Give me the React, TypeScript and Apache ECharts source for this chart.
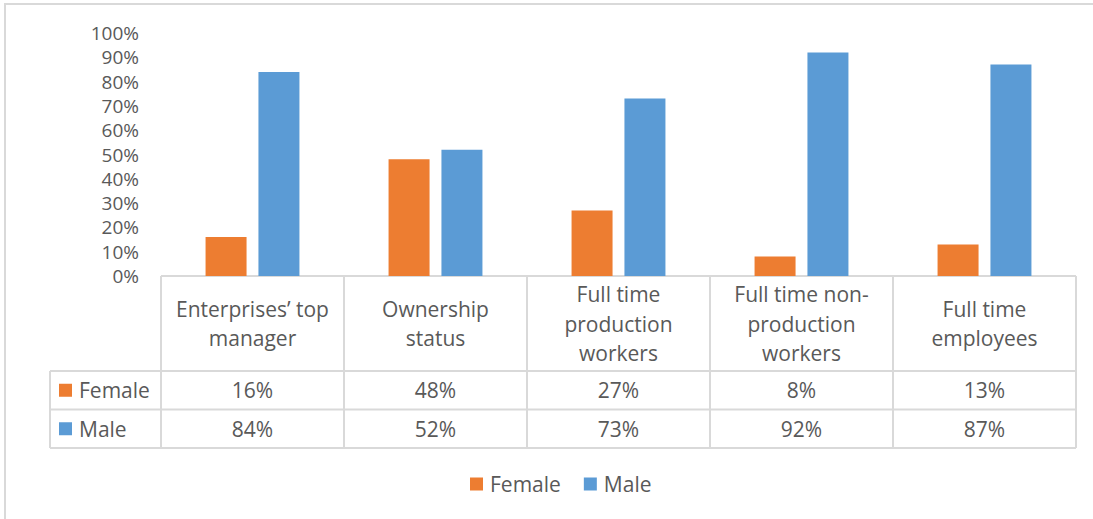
import React, { useEffect, useRef } from "react";
import * as echarts from "echarts";

const categories = [
  "Enterprises’ top\nmanager",
  "Ownership\nstatus",
  "Full time\nproduction\nworkers",
  "Full time non-\nproduction\nworkers",
  "Full time\nemployees",
];
const seriesNames = ["Female", "Male"];
const femaleValues = [16, 48, 27, 8, 13];
const maleValues = [84, 52, 73, 92, 87];
const seriesColors = ["#ED7D31", "#5B9BD5"];

const FONT = "'Open Sans', sans-serif";
const FS = 21;
const TXT = "#595959";
const LINE = "#d9d9d9";

export default function App() {
  const ref = useRef<HTMLDivElement>(null);

  useEffect(() => {
    if (!ref.current) return;
    const chart = echarts.init(ref.current, undefined, { renderer: "svg" });
    const seriesData = [femaleValues, maleValues];
    chart.setOption({
      animation: false,
      backgroundColor: "#ffffff",
      grid: { left: 161, right: 17, top: 33, bottom: 243, containLabel: false },
      legend: {
        data: seriesNames,
        top: 468,
        left: 465,
        icon: "rect",
        itemWidth: 13,
        itemHeight: 13,
        itemGap: 23,
        textStyle: { color: TXT, fontSize: FS, fontFamily: FONT, padding: [0, 0, 0, 2], lineHeight: 22 },
      },
      xAxis: {
        type: "category",
        data: categories,
        axisLine: { show: false },
        axisTick: { show: false },
        axisLabel: { show: false },
        splitLine: { show: false },
      },
      yAxis: {
        type: "value",
        min: 0,
        max: 100,
        interval: 10,
        axisLine: { show: false },
        axisTick: { show: false },
        splitLine: { show: false },
        axisLabel: {
          formatter: "{value}%",
          color: TXT,
          fontSize: 19,
          fontFamily: FONT,
          lineHeight: 19,
          margin: 22,
        },
      },
      series: seriesNames.map((name, i) => ({
        name,
        type: "bar",
        data: seriesData[i],
        barWidth: 41,
        barGap: "29%",
        itemStyle: { color: seriesColors[i] },
      })),
    });

    // Build the data table from the axis scale
    const n = categories.length;
    const x0 = chart.convertToPixel({ xAxisIndex: 0 }, 0) as number;
    const x1 = chart.convertToPixel({ xAxisIndex: 0 }, 1) as number;
    const bw = x1 - x0;
    const left = x0 - bw / 2;
    const right = left + bw * n;
    const top = chart.convertToPixel({ yAxisIndex: 0 }, 0) as number;
    const headerBottom = top + 95;
    const rowH = 38.5;
    const labelLeft = 50;
    const tableBottom = headerBottom + rowH * seriesNames.length;

    const els: any[] = [];
    els.push({
      type: "rect",
      shape: { x: 5, y: 4, width: 1200, height: 700 },
      style: { fill: "none", stroke: LINE, lineWidth: 2 },
      silent: true,
    });
    const hline = (y: number, xa: number, xb: number) =>
      els.push({ type: "line", shape: { x1: xa, y1: y, x2: xb, y2: y }, style: { stroke: LINE, lineWidth: 2 }, silent: true });
    const vline = (x: number, ya: number, yb: number) =>
      els.push({ type: "line", shape: { x1: x, y1: ya, x2: x, y2: yb }, style: { stroke: LINE, lineWidth: 2 }, silent: true });

    hline(top, left, right);
    for (let r = 0; r <= seriesNames.length; r++) hline(headerBottom + r * rowH, labelLeft, right);
    for (let c = 0; c <= n; c++) vline(left + c * bw, top, tableBottom);
    vline(labelLeft, headerBottom, tableBottom);

    categories.forEach((cat, c) => {
      const cx = chart.convertToPixel({ xAxisIndex: 0 }, c) as number;
      els.push({
        type: "text",
        x: cx,
        y: (top + headerBottom) / 2,
        style: {
          text: cat,
          fill: TXT,
          font: `${FS}px ${FONT}`,
          align: "center",
          verticalAlign: "middle",
          lineHeight: 29.5,
        },
        silent: true,
      });
    });

    seriesNames.forEach((name, r) => {
      const cy = headerBottom + r * rowH + rowH / 2;
      els.push({
        type: "rect",
        shape: { x: 59, y: cy - 6.5, width: 13, height: 13 },
        style: { fill: seriesColors[r] },
        silent: true,
      });
      els.push({
        type: "text",
        x: 79,
        y: cy,
        style: { text: name, fill: TXT, font: `${FS}px ${FONT}`, align: "left", verticalAlign: "middle" },
        silent: true,
      });
      seriesData[r].forEach((v, c) => {
        const cx = chart.convertToPixel({ xAxisIndex: 0 }, c) as number;
        els.push({
          type: "text",
          x: cx,
          y: cy,
          style: { text: `${v}%`, fill: TXT, font: `${FS}px ${FONT}`, align: "center", verticalAlign: "middle" },
          silent: true,
        });
      });
    });

    chart.setOption({ graphic: { elements: els } });

    return () => chart.dispose();
  }, []);

  return (
    <div
      ref={ref}
      style={{ position: "fixed", left: 0, top: 0, width: 1093, height: 519, background: "#fff" }}
    />
  );
}
